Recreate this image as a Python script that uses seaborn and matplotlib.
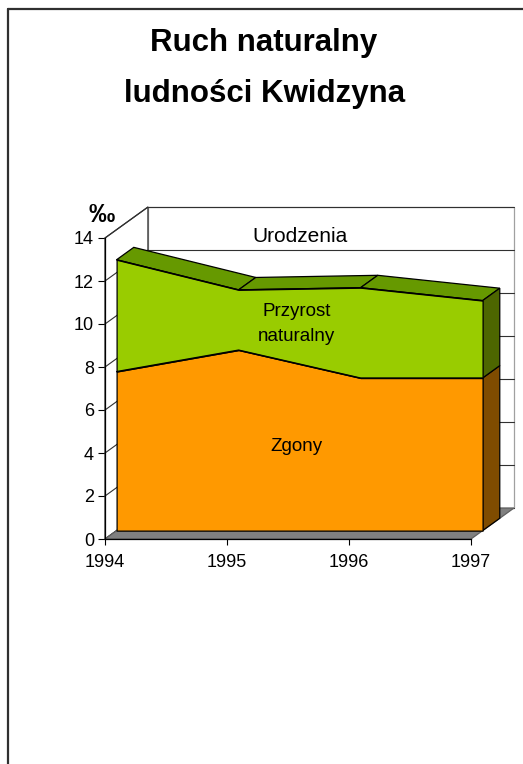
import numpy as np
import pandas as pd
import matplotlib.pyplot as plt
import seaborn as sns
from matplotlib.patches import Polygon
from matplotlib.lines import Line2D

# Dane: ruch naturalny ludności Kwidzyna (promile)
years = [1994, 1995, 1996, 1997]
zgony = [7.4, 8.4, 7.1, 7.1]
przyrost = [5.2, 2.8, 4.2, 3.6]
y_ticks = [0, 2, 4, 6, 8, 10, 12, 14]

df = pd.DataFrame({'rok': years, 'zgony': zgony, 'przyrost': przyrost})
df['urodzenia'] = df['zgony'] + df['przyrost']

# efekt 3D: wektor glebokosci w jednostkach danych
DX, DY = 0.352, 1.44
F1, F2 = 0.27, 0.67   # przod i tyl serii

sns.set_theme(style="white")
plt.rcParams['font.family'] = ['Liberation Sans', 'DejaVu Sans']
plt.rcParams['text.color'] = 'black'

fig = plt.figure(figsize=(5.23, 7.64), dpi=100)
ax = fig.add_axes([105 / 523, 225 / 764, 366 / 523, 301 / 764])
ax.set_xlim(1994, 1997)
ax.set_ylim(0, 14)


def poly(pts, fc, ec='black', lw=0.9, z=1):
    ax.add_patch(Polygon(pts, closed=True, fc=fc, ec=ec, lw=lw, zorder=z, clip_on=False))


x0, x1 = years[0], years[-1]
top = y_ticks[-1]

# sciana tylna i boczna z siatka
poly([(x0 + DX, DY), (x1 + DX, DY), (x1 + DX, top + DY), (x0 + DX, top + DY)], 'white', ec='#a0a0a0', z=0.5)
poly([(x0, 0), (x0 + DX, DY), (x0 + DX, top + DY), (x0, top)], 'white', ec='#303030', z=0.6)
for k in y_ticks:
    ax.plot([x0 + DX, x1 + DX], [k + DY, k + DY], color='#303030', lw=0.8, clip_on=False, zorder=0.7)
    ax.plot([x0, x0 + DX], [k, k + DY], color='#303030', lw=0.8, clip_on=False, zorder=0.7)

# podloga
poly([(x0, 0), (x1, 0), (x1 + DX, DY), (x0 + DX, DY)], '#808080', ec='#606060', z=0.8)

xf = df['rok'].values + F1 * DX
xb = df['rok'].values + F2 * DX
zf = df['zgony'].values
uf = df['urodzenia'].values
b1, b2 = F1 * DY, F2 * DY

# gorna powierzchnia serii
for i in range(len(years) - 1):
    poly([(xf[i], uf[i] + b1), (xf[i + 1], uf[i + 1] + b1),
          (xb[i + 1], uf[i + 1] + b2), (xb[i], uf[i] + b2)], '#669900', z=2)

# boczne sciany po prawej
poly([(xf[-1], b1), (xf[-1], zf[-1] + b1), (xb[-1], zf[-1] + b2), (xb[-1], b2)], '#7f4c00', z=2)
poly([(xf[-1], zf[-1] + b1), (xf[-1], uf[-1] + b1), (xb[-1], uf[-1] + b2), (xb[-1], zf[-1] + b2)], '#4d6600', z=2)

# przednie powierzchnie
ax.fill_between(xf, b1, zf + b1, color='#ff9900', ec='black', lw=0.9, zorder=3, clip_on=False)
ax.fill_between(xf, zf + b1, uf + b1, color='#99cc00', ec='black', lw=0.9, zorder=3, clip_on=False)
sns.lineplot(x=xf, y=uf + b1, color='black', lw=0.9, ax=ax, zorder=4, clip_on=False)
sns.lineplot(x=xf, y=zf + b1, color='black', lw=0.9, ax=ax, zorder=4, clip_on=False)

# osie
ax.set_xticks(years)
ax.set_yticks(y_ticks)
ax.set_xticklabels([str(y) for y in years])
for s in ['top', 'right']:
    ax.spines[s].set_visible(False)
for s in ['left', 'bottom']:
    ax.spines[s].set_color('black')
    ax.spines[s].set_linewidth(0.9)
    ax.spines[s].set_zorder(5)
ax.tick_params(axis='y', length=5, width=0.8, pad=3, labelsize=13, left=True, colors='black')
ax.tick_params(axis='x', length=4.5, width=0.8, pad=6, labelsize=13, bottom=True, colors='black')
ax.set_xlabel('')
ax.set_ylabel('')
ax.patch.set_alpha(0)

# etykiety serii
ax.text(1995.6, 14.05, 'Urodzenia', ha='center', va='center', fontsize=15, zorder=6)
ax.text(1995.57, 10.56, 'Przyrost', ha='center', va='center', fontsize=13.5, zorder=6)
ax.text(1995.57, 9.44, 'naturalny', ha='center', va='center', fontsize=13.5, zorder=6)
ax.text(1995.57, 4.3, 'Zgony', ha='center', va='center', fontsize=13.5, zorder=6)
ax.text(1993.975, 15.07, '‰', ha='center', va='center', fontsize=19, fontweight='bold', zorder=6)

# tytul
fig.text(264 / 523, 1 - 43 / 764, 'Ruch naturalny', ha='center', va='center', fontsize=22.5, fontweight='bold')
fig.text(265 / 523, 1 - 94 / 764, 'ludności Kwidzyna', ha='center', va='center', fontsize=22.5, fontweight='bold')

# ramka
fig.add_artist(Line2D([8 / 523, 8 / 523], [0, 1 - 9 / 764], color='#303030', lw=1.6, transform=fig.transFigure))
fig.add_artist(Line2D([8 / 523, 1], [1 - 9 / 764, 1 - 9 / 764], color='#303030', lw=1.6, transform=fig.transFigure))

fig.savefig('out.png', dpi=100)
